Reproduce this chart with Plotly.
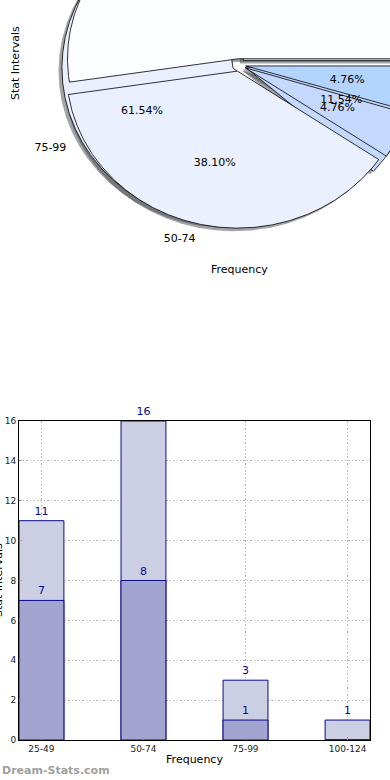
import numpy as np
import plotly.graph_objects as go

# ---------------- data ----------------
categories = ['25-49', '50-74', '75-99', '100-124']
outer_counts = [11, 16, 3, 1]      # light bars
inner_counts = [7, 8, 1, 0]        # dark bars

pie_a_values = [7, 16, 3]
pie_a_labels = ['50-74', '75-99', '100-124']
pie_b_values = [11, 8, 1, 1]
pie_b_labels = ['25-49', '50-74', '75-99', '100-124']

# ---------------- styles ----------------
W, H = 390, 780
FONT = "DejaVu Sans"
slice_colors = ['#fcfdff', '#eaf0fe', '#c5d8fe', '#b3d4ff']
light_bar = '#cccee4'
dark_bar = '#a3a5d0'
edge = '#0a0a8c'
EXPLODE = 0.04
SHADOW = (-0.02, -0.02)

# pie panel geometry (pixels)
pcx, pcy, rx, ry, top_h = 239, 65, 171, 157, 280


def wedges(values, labels):
    total = float(sum(values))
    start = 0.0
    out = []
    for i, (v, lab) in enumerate(zip(values, labels)):
        if v == 0:
            continue
        sweep = 360.0 * v / total
        t1, t2 = start, start + sweep
        tm = np.radians((t1 + t2) / 2)
        cx, cy = EXPLODE * np.cos(tm), EXPLODE * np.sin(tm)
        th = np.radians(np.linspace(t1, t2, max(int(sweep * 3), 3)))
        xs = np.concatenate([[cx], cx + np.cos(th), [cx]])
        ys = np.concatenate([[cy], cy + np.sin(th), [cy]])
        out.append(dict(xs=xs, ys=ys, tm=tm, cx=cx, cy=cy, frac=v / total,
                        label=lab, color=slice_colors[i % len(slice_colors)]))
        start = t2
    return out


pie_a = wedges(pie_a_values, pie_a_labels)
pie_b = wedges(pie_b_values, pie_b_labels)

fig = go.Figure()

# shadows (below every wedge)
for w in pie_a + pie_b:
    fig.add_trace(go.Scatter(x=w['xs'] + SHADOW[0], y=w['ys'] + SHADOW[1], mode='lines',
                             fill='toself', fillcolor='rgba(72,74,78,0.5)',
                             line=dict(width=0), hoverinfo='skip',
                             xaxis='x', yaxis='y', showlegend=False))
# wedges
for w in pie_a + pie_b:
    fig.add_trace(go.Scatter(x=w['xs'], y=w['ys'], mode='lines', fill='toself',
                             fillcolor=w['color'], line=dict(color='black', width=0.8),
                             hoverinfo='skip', xaxis='x', yaxis='y', showlegend=False))
# pie texts
for w in pie_a + pie_b:
    c, s = np.cos(w['tm']), np.sin(w['tm'])
    fig.add_trace(go.Scatter(x=[w['cx'] + 0.6 * c], y=[w['cy'] + 0.6 * s], mode='text',
                             text=['%.2f%%' % (100 * w['frac'])], textposition='middle center',
                             textfont=dict(family=FONT, size=11, color='black'),
                             hoverinfo='skip', xaxis='x', yaxis='y', showlegend=False))
    lx, ly = w['cx'] + 1.1 * c, w['cy'] + 1.1 * s
    fig.add_trace(go.Scatter(x=[lx], y=[ly], mode='text', text=[w['label']],
                             textposition='middle left' if lx < 0 else 'middle right',
                             textfont=dict(family=FONT, size=11, color='black'),
                             hoverinfo='skip', xaxis='x', yaxis='y', showlegend=False))

# bars
outer_text = [str(v) if v else '' for v in outer_counts]
inner_text = [str(v) if v else '' for v in inner_counts]
fig.add_trace(go.Bar(x=categories, y=outer_counts, text=outer_text, textposition='outside',
                     width=0.44, marker=dict(color=light_bar, line=dict(color=edge, width=1)),
                     textfont=dict(family=FONT, size=11, color=edge), cliponaxis=False,
                     xaxis='x2', yaxis='y2', showlegend=False, hoverinfo='skip'))
fig.add_trace(go.Bar(x=categories, y=inner_counts, text=inner_text, textposition='outside',
                     width=0.44, marker=dict(color=dark_bar, line=dict(color=edge, width=1)),
                     textfont=dict(family=FONT, size=11, color=edge), cliponaxis=False,
                     xaxis='x2', yaxis='y2', showlegend=False, hoverinfo='skip'))

ax_hidden = dict(visible=False, showgrid=False, zeroline=False, automargin=False)
grid = dict(showgrid=True, gridcolor='#b8b8b8', griddash='1.5px,2px', gridwidth=1)
ann = dict(xref='paper', yref='paper', showarrow=False, xanchor='center', yanchor='middle')
fig.update_layout(
    width=W, height=H, margin=dict(l=0, r=0, t=0, b=0, autoexpand=False),
    paper_bgcolor='white', plot_bgcolor='rgba(0,0,0,0)',
    barmode='overlay', showlegend=False,
    font=dict(family=FONT, color='black'),
    xaxis=dict(ax_hidden, domain=[0, 1], range=[-pcx / rx, (W - pcx) / rx], anchor='y'),
    yaxis=dict(ax_hidden, domain=[1 - top_h / H, 1], range=[-(top_h - pcy) / ry, pcy / ry],
               anchor='x'),
    xaxis2=dict(grid, domain=[19 / W, 370 / W], range=[-0.22, 3.22], type='category',
                anchor='y2', automargin=False,
                showline=True, mirror=True, linecolor='black', linewidth=1,
                ticks='inside', ticklen=3, tickcolor='#999999',
                tickfont=dict(family=FONT, size=9, color='#222222'), zeroline=False,
                title=dict(text='Frequency', font=dict(family=FONT, size=11), standoff=2)),
    yaxis2=dict(grid, domain=[1 - 740 / H, 1 - 421 / H], range=[0, 16], dtick=2,
                anchor='x2', automargin=False,
                showline=True, mirror=True, linecolor='black', linewidth=1,
                ticks='inside', ticklen=3, tickcolor='#999999',
                tickfont=dict(family=FONT, size=9, color='#222222'), zeroline=False),
    annotations=[
        dict(ann, text='Stat Intervals', x=15 / W, y=1 - 63 / H, textangle=-90,
             font=dict(family=FONT, size=11)),
        dict(ann, text='Frequency', x=239 / W, y=1 - 269 / H, font=dict(family=FONT, size=11)),
        dict(ann, text='Stat Intervals', x=-2 / W, y=1 - 580 / H, textangle=-90,
             font=dict(family=FONT, size=11)),
        dict(ann, text='<b>Dream-Stats.com</b>', x=0, xanchor='left', y=1 - 770 / H,
             font=dict(family=FONT, size=11, color='#a0a0a0')),
    ],
)

fig.write_html("out.html", post_script="document.body.style.margin='0';",
               config={'displayModeBar': False})
